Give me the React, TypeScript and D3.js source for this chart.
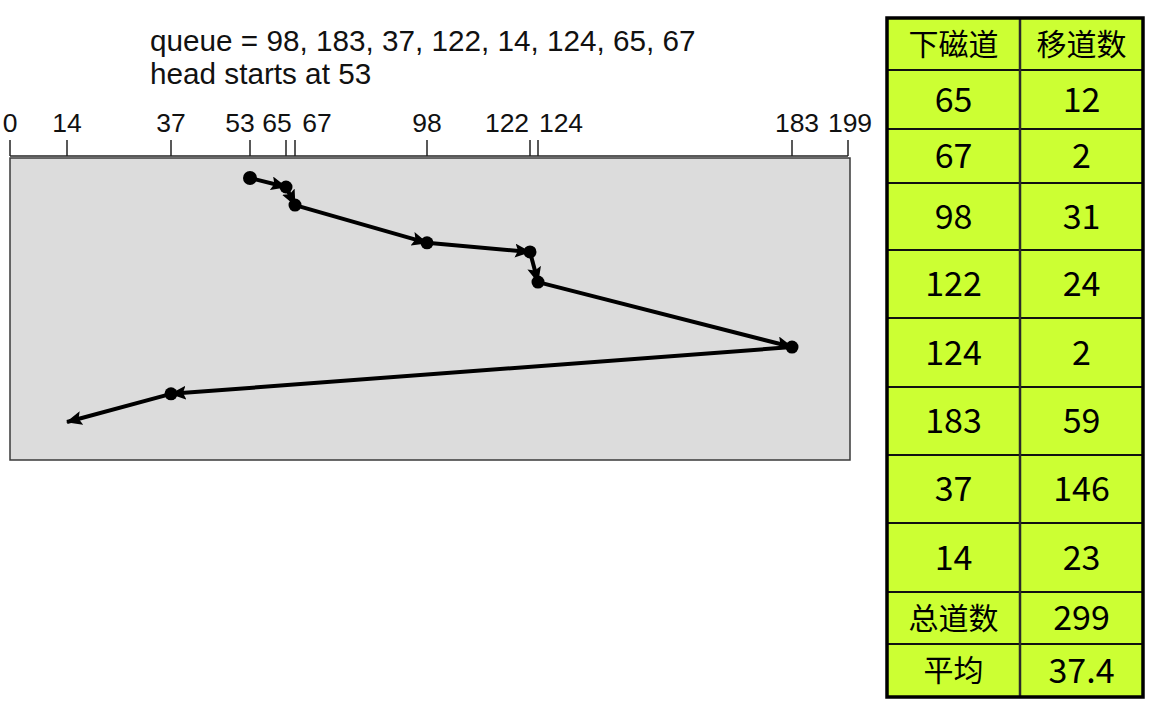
import { useEffect, useRef } from "react";
import * as d3 from "d3";

const WIDTH = 1153;
const HEIGHT = 707;

// disk track axis (the original figure is hand-placed, so the scale is piecewise)
const TICK_VALUES = [0, 14, 37, 53, 65, 67, 98, 122, 124, 183, 199];
const TICK_PX = [10, 67, 171, 250, 286, 295, 427, 530, 538, 792, 848];
const LABEL_NUDGE: Record<number, number> = {
  53: -10,
  65: -9,
  67: 22,
  122: -23,
  124: 23,
  183: 5,
  199: 2,
};

const QUEUE = [98, 183, 37, 122, 14, 124, 65, 67];
const HEAD_START = 53;
const SERVICE_ORDER = [53, 65, 67, 98, 122, 124, 183, 37, 14];
const ELAPSED = [6.6, 9.6, 15.6, 28.1, 31.1, 41.1, 62.6, 78.1, 87.4];

const TABLE_HEADER = ["下磁道", "移道数"];
const TABLE_TRACKS = ["65", "67", "98", "122", "124", "183", "37", "14", "总道数", "平均"];
const TABLE_MOVES = ["12", "2", "31", "24", "2", "59", "146", "23", "299", "37.4"];

const PLOT = { left: 10, right: 850, top: 158, bottom: 460 };
const AXIS_Y = 156;
const TICK_LEN = 16;
const TABLE = { left: 887, mid: 1020, right: 1143, top: 18, bottom: 697 };
const ROW_WEIGHTS = [52, 59, 54, 67, 68, 69, 68, 68, 69, 52, 53];

const PLOT_FILL = "#dcdcdc";
const TABLE_FILL = "#ccff33";
const SANS = "'Liberation Sans', Arial, Helvetica, sans-serif";
const CJK = "'Noto Sans CJK SC', sans-serif";

export default function App() {
  const svgRef = useRef<SVGSVGElement>(null);

  useEffect(() => {
    if (!svgRef.current) return;
    const svg = d3.select(svgRef.current);
    svg.selectAll("*").remove();

    svg.append("rect").attr("width", WIDTH).attr("height", HEIGHT).attr("fill", "#fff");

    const x = d3.scaleLinear().domain(TICK_VALUES).range(TICK_PX);
    const y = d3.scaleLinear().domain([0, 100]).range([PLOT.top, PLOT.bottom]);

    // title
    const title = svg.append("g").style("font-family", SANS).style("font-size", "29.7px").attr("fill", "#111");
    title.append("text").attr("x", 150).attr("y", 51).text(`queue = ${QUEUE.join(", ")}`);
    title.append("text").attr("x", 150).attr("y", 84).text(`head starts at ${HEAD_START}`);

    // plot area
    svg
      .append("rect")
      .attr("x", PLOT.left)
      .attr("y", PLOT.top)
      .attr("width", PLOT.right - PLOT.left)
      .attr("height", PLOT.bottom - PLOT.top)
      .attr("fill", PLOT_FILL)
      .attr("stroke", "#3a3a3a")
      .attr("stroke-width", 1.5);

    // axis
    const axis = svg.append("g");
    axis
      .append("line")
      .attr("x1", x(0))
      .attr("x2", x(199))
      .attr("y1", AXIS_Y)
      .attr("y2", AXIS_Y)
      .attr("stroke", "#222")
      .attr("stroke-width", 1.5);
    axis
      .selectAll("line.tick")
      .data(TICK_VALUES)
      .enter()
      .append("line")
      .attr("class", "tick")
      .attr("x1", (d) => x(d))
      .attr("x2", (d) => x(d))
      .attr("y1", AXIS_Y)
      .attr("y2", AXIS_Y - TICK_LEN)
      .attr("stroke", "#222")
      .attr("stroke-width", 1.5);
    axis
      .selectAll("text")
      .data(TICK_VALUES)
      .enter()
      .append("text")
      .attr("x", (d) => x(d) + (LABEL_NUDGE[d] ?? 0))
      .attr("y", 132)
      .attr("text-anchor", "middle")
      .style("font-family", SANS)
      .style("font-size", "26.5px")
      .attr("fill", "#111")
      .text((d) => d);

    // arrow marker
    svg
      .append("defs")
      .append("marker")
      .attr("id", "arrow")
      .attr("markerUnits", "userSpaceOnUse")
      .attr("viewBox", "0 0 16 14")
      .attr("markerWidth", 16)
      .attr("markerHeight", 14)
      .attr("refX", 15)
      .attr("refY", 7)
      .attr("orient", "auto")
      .append("path")
      .attr("d", "M0,0 L16,7 L0,14 L3,7 Z")
      .attr("fill", "#000");

    const pts = SERVICE_ORDER.map((t, i) => [x(t), y(ELAPSED[i])] as [number, number]);
    const segs = d3.pairs(pts);

    svg
      .selectAll("line.seg")
      .data(segs)
      .enter()
      .append("line")
      .attr("class", "seg")
      .attr("x1", (d) => d[0][0])
      .attr("y1", (d) => d[0][1])
      .attr("x2", (d) => d[1][0])
      .attr("y2", (d) => d[1][1])
      .attr("stroke", "#000")
      .attr("stroke-width", 4)
      .attr("marker-end", "url(#arrow)");

    svg
      .selectAll("circle.stop")
      .data(pts.slice(0, -1))
      .enter()
      .append("circle")
      .attr("class", "stop")
      .attr("cx", (d) => d[0])
      .attr("cy", (d) => d[1])
      .attr("r", (d, i) => (i === 0 ? 7 : 6.5))
      .attr("fill", "#000");

    // table
    const rowEdges = [0, ...d3.cumsum(ROW_WEIGHTS)];
    const rowY = d3
      .scaleLinear()
      .domain([0, rowEdges[rowEdges.length - 1]])
      .range([TABLE.top, TABLE.bottom]);
    const rows = [TABLE_HEADER, ...TABLE_TRACKS.map((t, i) => [t, TABLE_MOVES[i]])];
    const colX = [TABLE.left, TABLE.mid, TABLE.right];

    const table = svg.append("g");
    table
      .append("rect")
      .attr("x", TABLE.left)
      .attr("y", TABLE.top)
      .attr("width", TABLE.right - TABLE.left)
      .attr("height", TABLE.bottom - TABLE.top)
      .attr("fill", TABLE_FILL);

    table
      .selectAll("line.row")
      .data(rowEdges.slice(1, -1))
      .enter()
      .append("line")
      .attr("class", "row")
      .attr("x1", TABLE.left)
      .attr("x2", TABLE.right)
      .attr("y1", (d) => rowY(d))
      .attr("y2", (d) => rowY(d))
      .attr("stroke", "#111")
      .attr("stroke-width", 2);
    table
      .append("line")
      .attr("x1", TABLE.mid)
      .attr("x2", TABLE.mid)
      .attr("y1", TABLE.top)
      .attr("y2", TABLE.bottom)
      .attr("stroke", "#2a2a2a")
      .attr("stroke-width", 2.5);
    table
      .append("rect")
      .attr("x", TABLE.left)
      .attr("y", TABLE.top)
      .attr("width", TABLE.right - TABLE.left)
      .attr("height", TABLE.bottom - TABLE.top)
      .attr("fill", "none")
      .attr("stroke", "#000")
      .attr("stroke-width", 3.5);

    rows.forEach((row, r) => {
      const cy = (rowY(rowEdges[r]) + rowY(rowEdges[r + 1])) / 2;
      row.forEach((label, c) => {
        const isCjk = /[^\x00-\x7f]/.test(label);
        table
          .append("text")
          .attr("x", (colX[c] + colX[c + 1]) / 2)
          .attr("y", cy)
          .attr("dy", "0.36em")
          .attr("text-anchor", "middle")
          .style("font-family", CJK)
          .style("font-size", isCjk ? "30px" : "34px")
          .attr("fill", "#000")
          .text(label);
      });
    });
  }, []);

  return (
    <svg
      ref={svgRef}
      width={WIDTH}
      height={HEIGHT}
      style={{ position: "absolute", left: 0, top: 0 }}
    ></svg>
  );
}
